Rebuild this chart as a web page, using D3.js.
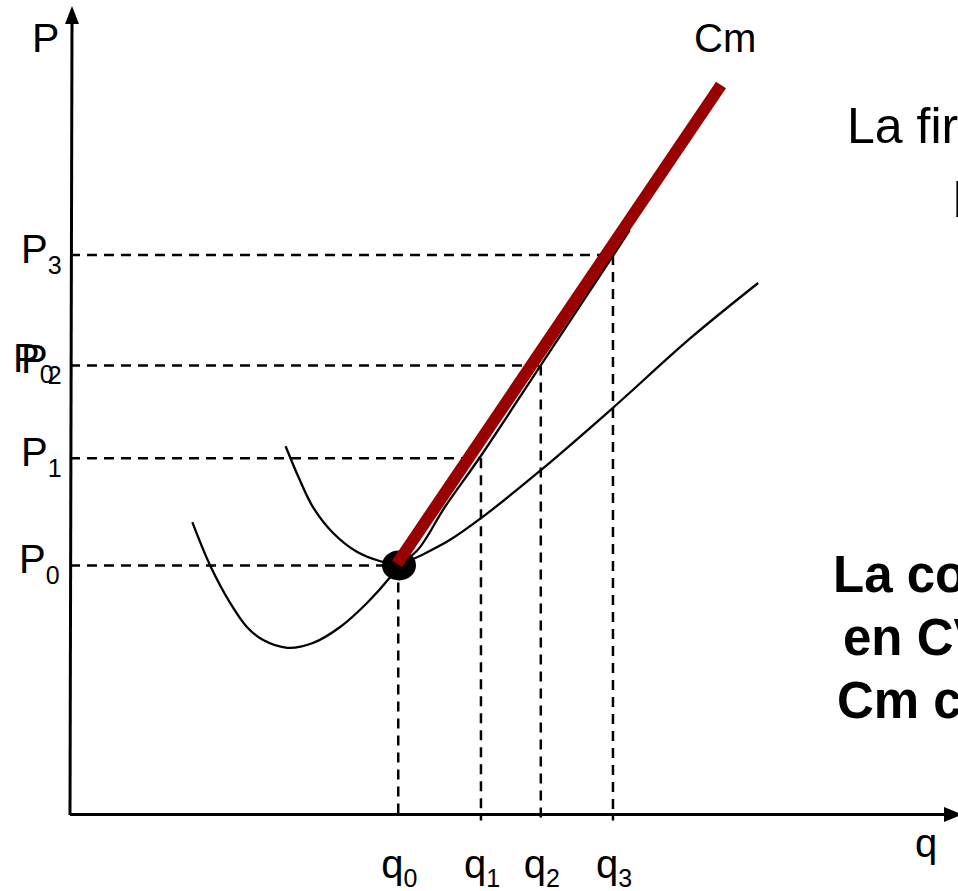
<!DOCTYPE html>
<html>
<head>
<meta charset="utf-8">
<script src="https://cdn.jsdelivr.net/npm/d3@7/dist/d3.min.js"></script>
<style>
  html, body { margin: 0; padding: 0; background: #fff; overflow: hidden; }
  svg { display: block; font-family: "Liberation Sans", Arial, sans-serif; }
</style>
</head>
<body>
<svg id="chart" width="958" height="891"></svg>
<script>
// ---- data (chart units) ----
const qLevels = [37.3, 46.7, 53.5, 61.7];
const qSubs = ["0", "1", "2", "3"];
const pLevels = [31.2, 44.6, 56.2, 70.0];
const pSubs = ["0", "1", "2", "3"];

// average variable cost curve (lower U)
const cvmeQ = [13.9, 15.9, 18.2, 20.1, 21.9, 24.7, 27.6, 30.7, 33.75, 36.4, 37.3, 39.8, 43.2, 46.7, 53.5, 61.7, 70.5, 78.2];
const cvmeP = [36.6, 31.25, 26.5, 23.5, 21.9, 20.9, 21.5, 23.5, 26.5, 29.75, 31.1, 32.4, 34.4, 37.1, 43.1, 50.9, 59.6, 66.5];

// marginal cost curve (upper thin curve)
const cmQ = [24.5, 26.1, 27.6, 29.9, 32.6, 35.2, 37.2, 39.4, 42.6, 46.6, 53.6, 61.4, 63.6];
const cmP = [46.1, 41.9, 38.5, 35.25, 32.9, 31.75, 31.4, 33.0, 38.5, 44.75, 56.4, 69.4, 73.1];

// supply (thick red Cm segment)
const supplyQ = [37.16, 73.98];
const supplyP = [31.4, 91.25];

const dotQ = 37.5, dotP = 31.2;

// ---- scales ----
const svg = d3.select("#chart");
const x = d3.scaleLinear().domain([0, 100]).range([70, 950]);
const y = d3.scaleLinear().domain([0, 100]).range([815, 15]);

const line = d3.line().x(d => x(d[0])).y(d => y(d[1]));
const curve = d3.line().x(d => x(d[0])).y(d => y(d[1])).curve(d3.curveCatmullRom.alpha(0.5));

// ---- dashed guides ----
const dash = "10,7";
pLevels.forEach((p, i) => {
  svg.append("path").attr("d", line([[0, p], [qLevels[i], p]]))
    .attr("stroke", "#000").attr("stroke-width", 2.5).attr("stroke-dasharray", dash).attr("fill", "none");
  svg.append("path").attr("d", line([[qLevels[i], p], [qLevels[i], -0.7]]))
    .attr("stroke", "#000").attr("stroke-width", 2.5).attr("stroke-dasharray", dash).attr("fill", "none");
});

// ---- axes ----
svg.append("line").attr("x1", x(0)).attr("y1", y(0)).attr("x2", x(0) + 2).attr("y2", 22)
  .attr("stroke", "#000").attr("stroke-width", 3);
svg.append("path").attr("d", `M${x(0)+2},6 L${x(0)+9},24 L${x(0)-5},24 Z`).attr("fill", "#000");
svg.append("line").attr("x1", x(0)).attr("y1", y(0) - 0.5).attr("x2", 946).attr("y2", y(0) - 0.5)
  .attr("stroke", "#000").attr("stroke-width", 3);
svg.append("path").attr("d", `M962,${y(0)-0.5} L944,${y(0)-8} L944,${y(0)+7} Z`).attr("fill", "#000");

// ---- curves ----
svg.append("path").attr("d", curve(d3.zip(cvmeQ, cvmeP)))
  .attr("fill", "none").attr("stroke", "#000").attr("stroke-width", 2.3);
svg.append("path").attr("d", curve(d3.zip(cmQ, cmP)))
  .attr("fill", "none").attr("stroke", "#000").attr("stroke-width", 2.3);

// dot
svg.append("ellipse").attr("cx", x(dotQ) - 1).attr("cy", y(dotP)).attr("rx", 17).attr("ry", 15).attr("fill", "#000");

// red supply line
svg.append("path").attr("d", line(d3.zip(supplyQ, supplyP)))
  .attr("stroke", "#990000").attr("stroke-width", 12).attr("fill", "none");

// ---- labels ----
function sub(xp, yp, main, s, size, subSize, shift) {
  const t = svg.append("text").attr("x", xp).attr("y", yp).attr("font-size", size).attr("fill", "#000");
  t.append("tspan").text(main);
  t.append("tspan").attr("font-size", subSize).attr("dy", shift).text(s);
}
svg.append("text").attr("x", 32).attr("y", 52).attr("font-size", 41).attr("fill", "#000").text("P");
svg.append("text").attr("x", 694).attr("y", 52).attr("font-size", 40).attr("fill", "#000").text("Cm");
svg.append("text").attr("x", 915).attr("y", 857).attr("font-size", 40).attr("fill", "#000").text("q");

// P labels (P0 drawn twice: once at P2 height, as in the original overlap)
sub(13, y(pLevels[2]) + 7, "P", pSubs[0], 40, 25, 11);
pLevels.forEach((p, i) => {
  sub(i === 0 ? 19 : 21, y(p) + 8, "P", pSubs[i], 40, 25, 11);
});
qLevels.forEach((q, i) => {
  sub(x(q) - 17, 878, "q", qSubs[i], 40, 25, 9);
});

// side texts (cut off at the right edge, as in the original)
svg.append("text").attr("x", 847).attr("y", 143).attr("font-size", 50).attr("fill", "#000").text("La firma maximiza");
svg.append("text").attr("x", 953).attr("y", 217).attr("font-size", 50).attr("fill", "#000").text("beneficios");
svg.append("text").attr("x", 833).attr("y", 592).attr("font-size", 51).attr("font-weight", "bold").attr("fill", "#000").text("La condición");
svg.append("text").attr("x", 843).attr("y", 655).attr("font-size", 51).attr("font-weight", "bold").attr("fill", "#000").text("en CVMe");
svg.append("text").attr("x", 837).attr("y", 718).attr("font-size", 51).attr("font-weight", "bold").attr("fill", "#000").text("Cm creciente");
</script>
</body>
</html>
